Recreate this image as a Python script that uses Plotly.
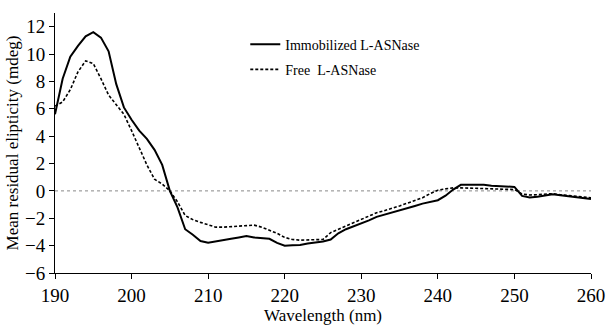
import plotly.graph_objects as go

wavelength = list(range(190, 261))
immobilized = [5.6, 8.2, 9.8, 10.6, 11.3, 11.6, 11.2, 10.2, 7.8, 6.1,
               5.2, 4.4, 3.8, 3.0, 1.9, 0.0, -1.2, -2.8, -3.2, -3.66,
               -3.78, -3.7, -3.6, -3.5, -3.4, -3.3, -3.4, -3.45, -3.5, -3.8,
               -4.0, -3.98, -3.95, -3.85, -3.78, -3.7, -3.55, -3.1, -2.8, -2.6,
               -2.4, -2.15, -1.9, -1.75, -1.6, -1.45, -1.25, -1.1, -0.93, -0.8,
               -0.68, -0.35, 0.1, 0.44, 0.44, 0.42, 0.44, 0.38, 0.36, 0.32,
               0.29, -0.37, -0.48, -0.42, -0.35, -0.25, -0.32, -0.4, -0.49, -0.55,
               -0.6]
free = [6.2, 6.5, 7.4, 8.7, 9.5, 9.3, 8.2, 7.0, 6.3, 5.6,
        4.4, 3.1, 1.9, 0.85, 0.5, 0.0, -0.8, -1.8, -2.1, -2.3,
        -2.5, -2.65, -2.65, -2.6, -2.56, -2.52, -2.5, -2.65, -2.85, -3.1,
        -3.4, -3.55, -3.6, -3.6, -3.6, -3.55, -3.05, -2.8, -2.55, -2.3,
        -2.1, -1.85, -1.6, -1.45, -1.3, -1.1, -0.9, -0.7, -0.5, -0.2,
        0.05, 0.15, 0.22, 0.22, 0.2, 0.2, 0.2, 0.18, 0.15, 0.12,
        0.1, -0.22, -0.3, -0.28, -0.25, -0.2, -0.28, -0.35, -0.4, -0.45,
        -0.5]
x_ticks = [190, 200, 210, 220, 230, 240, 250, 260]
y_ticks = [-6, -4, -2, 0, 2, 4, 6, 8, 10, 12]

font_family = "Liberation Serif"

fig = go.Figure()
fig.add_trace(go.Scatter(x=wavelength, y=immobilized, mode="lines",
                         name="Immobilized L-ASNase", legendgroup="a",
                         line=dict(color="black", width=2)))
fig.add_trace(go.Scatter(x=wavelength, y=free, mode="lines",
                         name="Free  L-ASNase", legendgroup="b",
                         line=dict(color="black", width=1.6, dash="3px,2px")))

fig.add_shape(type="line", xref="x", yref="y", x0=190, x1=260, y0=0, y1=0,
              line=dict(color="#888888", width=1, dash="dot"), layer="below")

fig.update_layout(
    width=606, height=327,
    margin=dict(l=55, r=15, t=13, b=54, autoexpand=False),
    paper_bgcolor="white", plot_bgcolor="white",
    font=dict(family=font_family, color="black"),
    showlegend=True,
    legend=dict(x=0.355, y=0.94, xanchor="left", yanchor="top",
                font=dict(size=14, family=font_family),
                bgcolor="rgba(0,0,0,0)", tracegroupgap=4, itemwidth=30),
    xaxis=dict(range=[190, 260], tickvals=x_ticks, ticks="outside", ticklen=5,
               tickcolor="black", showline=True, linecolor="black", linewidth=1,
               showgrid=False, zeroline=False, automargin=False,
               tickfont=dict(size=19, family=font_family),
               title=dict(text="Wavelength (nm)", font=dict(size=17, family=font_family),
                          standoff=4)),
    yaxis=dict(range=[-6, 13], tickvals=y_ticks, ticks="outside", ticklen=5,
               tickcolor="black", showline=True, linecolor="black", linewidth=1,
               showgrid=False, zeroline=False, automargin=False,
               tickfont=dict(size=19, family=font_family),
               title=dict(text="Mean residual elipticity (mdeg)",
                          font=dict(size=17, family=font_family), standoff=2)),
)

fig.write_html("out.html")
